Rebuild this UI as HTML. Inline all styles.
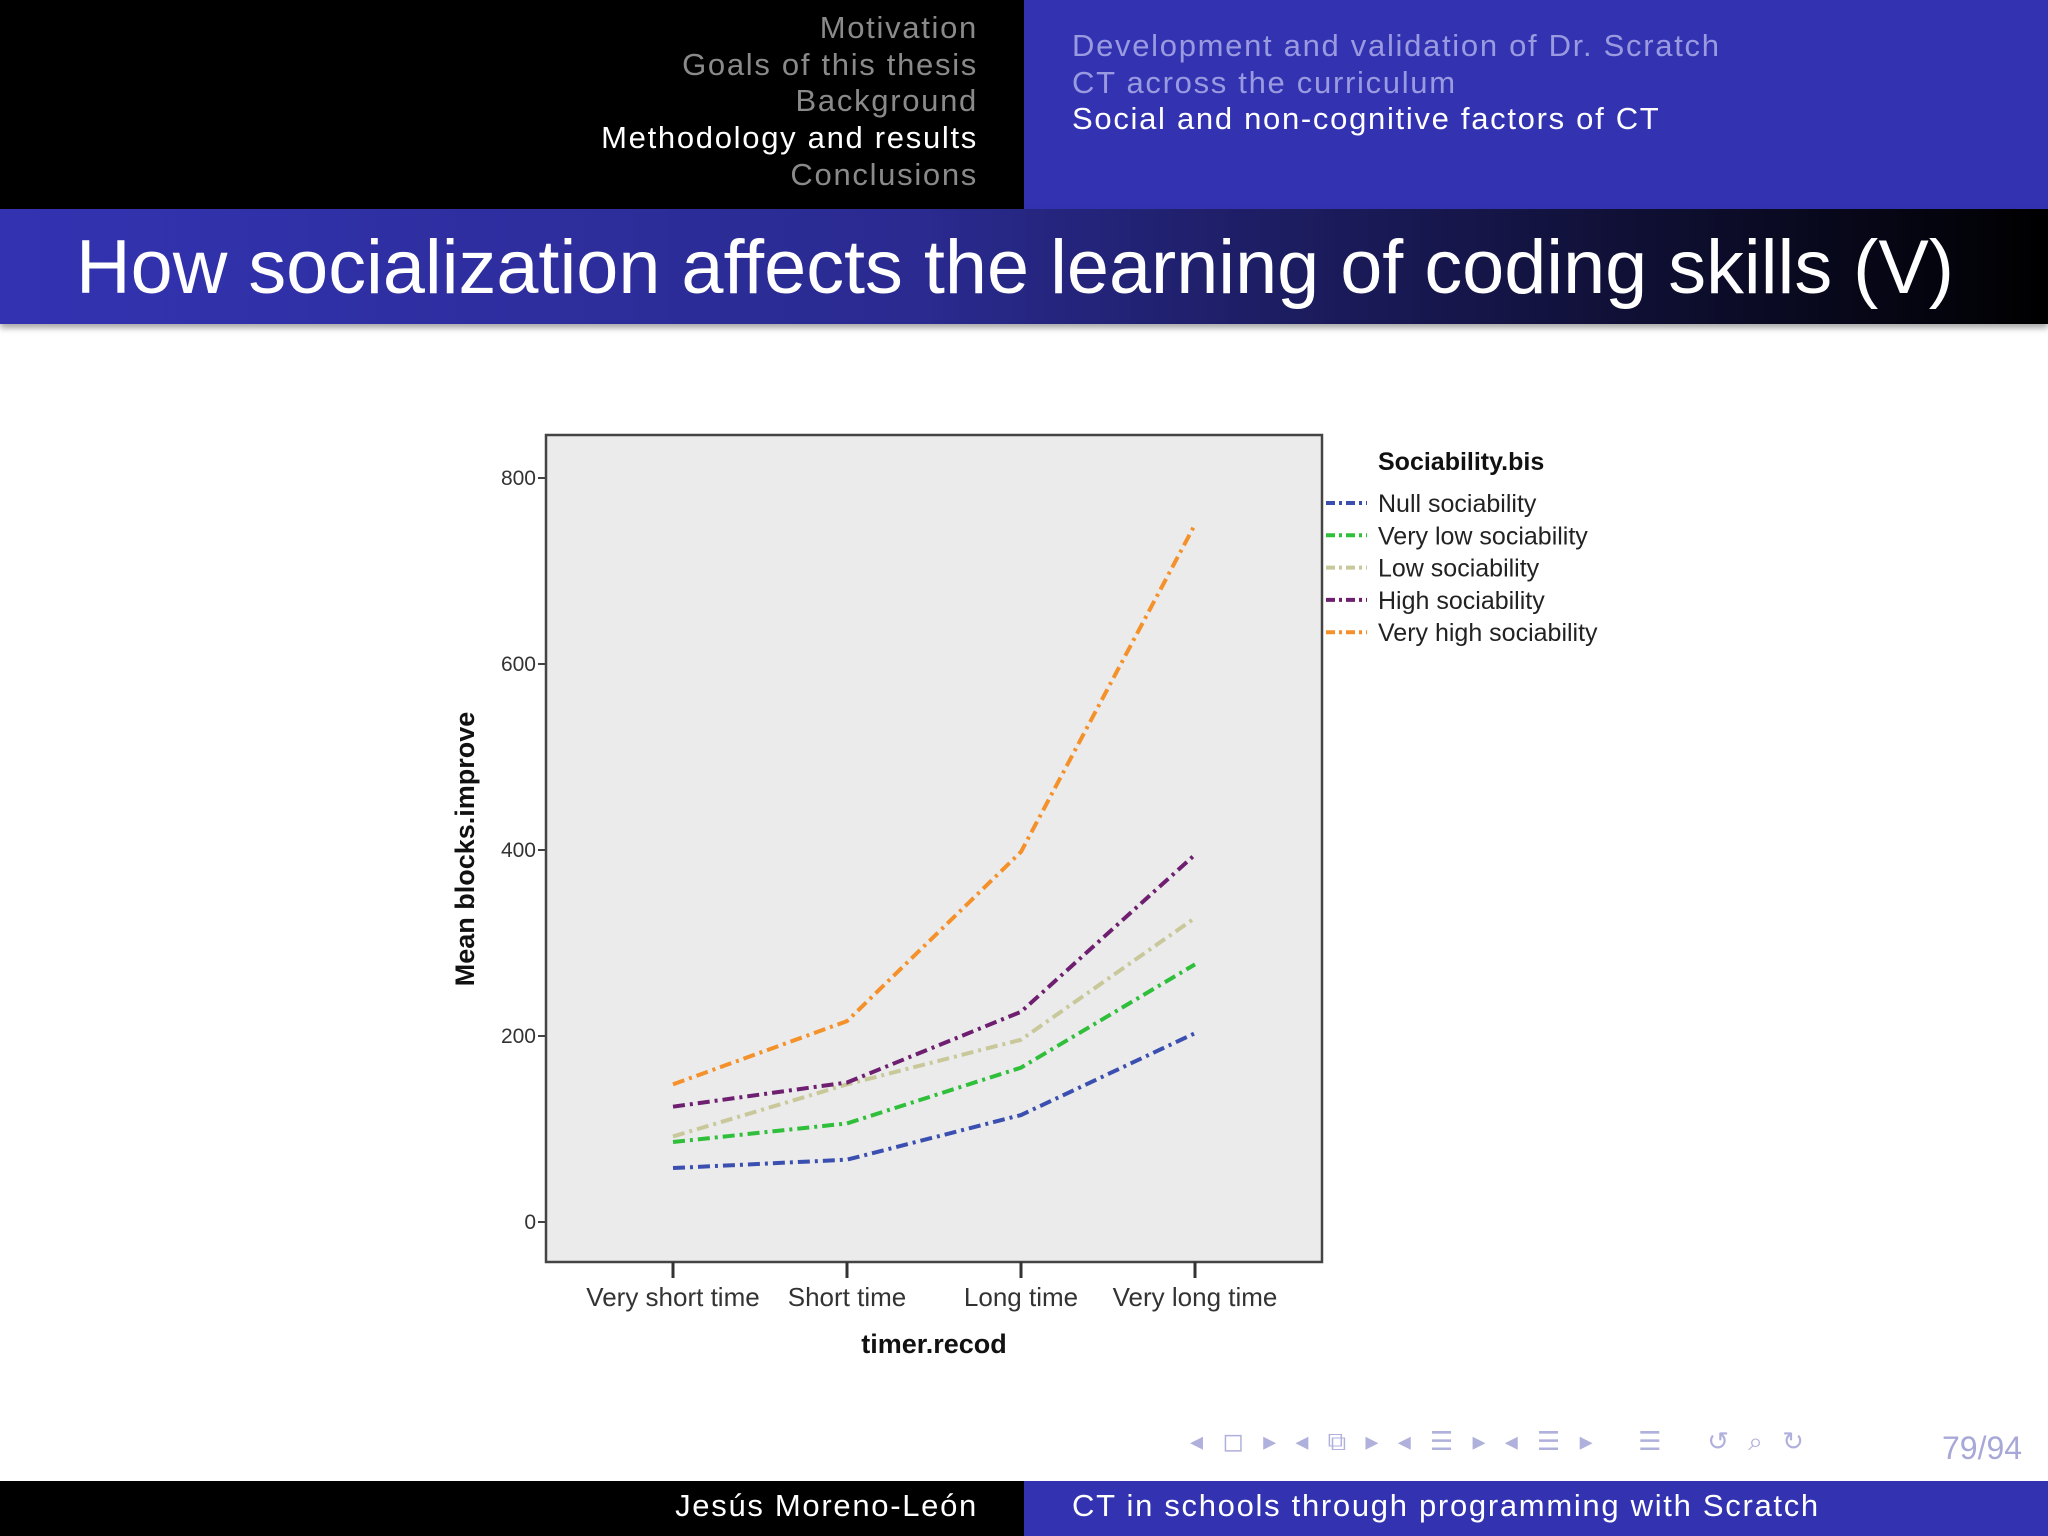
<!DOCTYPE html>
<html><head><meta charset="utf-8"><style>
body{margin:0;width:2048px;height:1536px;overflow:hidden;background:#fff;font-family:"Liberation Sans","DejaVu Sans",sans-serif;position:relative}
.abs{position:absolute;white-space:nowrap}
.ls{letter-spacing:1.7px}
</style></head><body>
<div class="abs" style="left:0;top:0;width:1024px;height:209px;background:#000"></div>
<div class="abs" style="left:1024px;top:0;width:1024px;height:209px;background:#3333b2"></div>
<div class="abs ls" style="right:1070px;top:10px;text-align:right;font-size:31px;line-height:36.7px;color:#8a8a8a">
<div>Motivation</div>
<div>Goals of this thesis</div>
<div>Background</div>
<div style="color:#fff">Methodology and results</div>
<div>Conclusions</div>
</div>
<div class="abs ls" style="left:1072px;top:28px;font-size:31px;line-height:36.7px;color:#9a9ae0">
<div>Development and validation of Dr. Scratch</div>
<div>CT across the curriculum</div>
<div style="color:#fff">Social and non-cognitive factors of CT</div>
</div>
<div class="abs" style="left:0;top:209px;width:2048px;height:115px;background:linear-gradient(90deg,#3333b2 0%,#2a2a90 45%,#000 100%);box-shadow:0 4px 6px rgba(0,0,0,0.35)"></div>
<svg class="abs" style="left:0;top:209px" width="2048" height="115">
<text x="76" y="84" font-size="76" fill="#fff" font-family="Liberation Sans, sans-serif" textLength="1878" lengthAdjust="spacingAndGlyphs">How socialization affects the learning of coding skills (V)</text>
</svg>

<svg class="abs" style="left:0;top:0" width="2048" height="1536" id="chart"></svg>

<div class="abs" style="left:0;top:1481px;width:1024px;height:55px;background:#000"></div>
<div class="abs" style="left:1024px;top:1481px;width:1024px;height:55px;background:#3333b2"></div>
<div class="abs ls" style="right:1070px;top:1488px;font-size:31px;color:#fff">Jesús Moreno-León</div>
<div class="abs ls" style="left:1072px;top:1488px;font-size:31px;color:#fff">CT in schools through programming with Scratch</div>
<div class="abs" style="left:1190px;top:1426px;font-size:26px;color:#b0b0dc;letter-spacing:6px">◂ ◻ ▸ ◂ ⧉ ▸ ◂ ☰ ▸ ◂ ☰ ▸ &nbsp; ☰ &nbsp; ↺ ⌕ ↻</div>
<div class="abs" style="left:1942px;top:1430px;font-size:32px;color:#a8a8d8">79/94</div>

<script>
const categories=["Very short time","Short time","Long time","Very long time"];
const seriesNames=["Null sociability","Very low sociability","Low sociability","High sociability","Very high sociability"];
const seriesColors=["#3a4fb0","#2fbf3a","#c8c89a","#6e1f70","#f5912a"];
const nullVals=[58,67,115,203];
const veryLowVals=[86,106,166,277];
const lowVals=[92,148,196,327];
const highVals=[124,150,226,395];
const veryHighVals=[148,216,398,750];
const yTicks=[0,200,400,600,800];
const series=[nullVals,veryLowVals,lowVals,highVals,veryHighVals];
const NS="http://www.w3.org/2000/svg";
const svg=document.getElementById('chart');
function mk(t,a,p){const e=document.createElementNS(NS,t);for(const k in a)e.setAttribute(k,a[k]);(p||svg).appendChild(e);return e;}
const L=546,T=435,R=1322,B=1262;
function y(v){return 1222-v*(1222-478)/800;}
function x(i){return 673+i*(1195-673)/3;}
const frame=mk('rect',{x:L,y:T,width:R-L,height:B-T,fill:'#ebebeb',stroke:'#444','stroke-width':2.5});


yTicks.forEach(v=>{
 const tk=mk('line',{x1:L-8,x2:L,y1:y(v),y2:y(v),stroke:'#444','stroke-width':2});
 
 
 const t=mk('text',{x:L-10,y:y(v)+7,'text-anchor':'end','font-size':21,fill:'#333','font-family':'Liberation Sans, sans-serif'});
 t.textContent=v;
 
 
});
categories.forEach((c,i)=>{
 const tk=mk('line',{x1:x(i),x2:x(i),y1:B,y2:B+16,stroke:'#333','stroke-width':3});
 
 
 const t=mk('text',{x:x(i),y:1306,'text-anchor':'middle','font-size':26,fill:'#333','font-family':'Liberation Sans, sans-serif'});
 t.textContent=c;
 
 
});
const xt=mk('text',{x:934,y:1353,'text-anchor':'middle','font-size':27,'font-weight':'bold',fill:'#111','font-family':'Liberation Sans, sans-serif'});
xt.textContent='timer.recod';


const yt=mk('text',{x:0,y:0,'text-anchor':'middle','font-size':27,'font-weight':'bold',fill:'#111','font-family':'Liberation Sans, sans-serif',transform:'translate(474,849) rotate(-90)'});
yt.textContent='Mean blocks.improve';


series.forEach((s,k)=>{
 const pl=mk('polyline',{points:s.map((v,i)=>x(i)+','+y(v)).join(' '),fill:'none',stroke:seriesColors[k],'stroke-width':4,'stroke-dasharray':'12 5 3 5'});
 
 
});
const lt=mk('text',{x:1378,y:470,'font-size':25,'font-weight':'bold',fill:'#111','font-family':'Liberation Sans, sans-serif'});
lt.textContent='Sociability.bis';


seriesNames.forEach((n,k)=>{
 const ly=503+k*32.3;
 const ln=mk('line',{x1:1326,x2:1367,y1:ly,y2:ly,stroke:seriesColors[k],'stroke-width':4,'stroke-dasharray':'9 4 3 4'});
 
 
 const t=mk('text',{x:1378,y:ly+9,'font-size':25,fill:'#222','font-family':'Liberation Sans, sans-serif'});
 t.textContent=n;
 
 
});
</script>
</body></html>
